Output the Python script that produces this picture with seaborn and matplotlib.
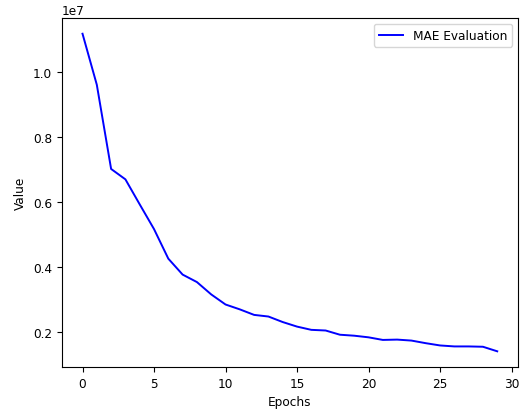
import matplotlib
matplotlib.use("Agg")
import matplotlib.pyplot as plt
import pandas as pd
import seaborn as sns

# Per-epoch MAE on the evaluation set
epochs = list(range(30))
mae_eval = [
    11.19e6, 9.62e6, 7.03e6, 6.71e6, 5.94e6, 5.18e6, 4.27e6, 3.78e6, 3.55e6, 3.17e6,
    2.86e6, 2.71e6, 2.54e6, 2.49e6, 2.32e6, 2.18e6, 2.08e6, 2.06e6, 1.93e6, 1.90e6,
    1.85e6, 1.77e6, 1.78e6, 1.75e6, 1.67e6, 1.60e6, 1.57e6, 1.57e6, 1.56e6, 1.42e6,
]
series_label = "MAE Evaluation"

df = pd.DataFrame({"Epochs": epochs, "Value": mae_eval})

plt.rcParams["font.size"] = 8.7
fig = plt.figure(figsize=(5.28, 4.10), dpi=100)
ax = fig.add_axes([0.117, 0.102, 0.864, 0.852])

sns.lineplot(data=df, x="Epochs", y="Value", color="blue", linewidth=1.4,
             label=series_label, ax=ax)

ax.set_xlabel("Epochs")
ax.set_ylabel("Value")
ax.set_xticks([0, 5, 10, 15, 20, 25, 30])
ax.legend(loc="upper right")

fig.savefig("out.png", dpi=100)
